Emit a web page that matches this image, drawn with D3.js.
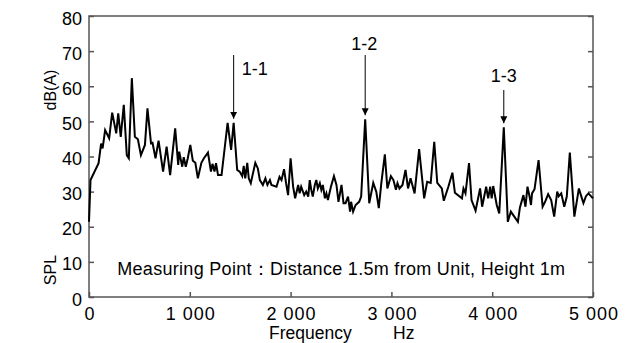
<!DOCTYPE html>
<html>
<head>
<meta charset="utf-8">
<script src="https://cdn.jsdelivr.net/npm/d3@7"></script>
<style>
body{margin:0;background:#fff;}
text{font-family:"Liberation Sans",Arial,sans-serif;fill:#000;}
</style>
</head>
<body>
<svg width="636" height="343"></svg>
<script>
// spectrum
var freq = [0,15,95,120,135,160,200,230,270,290,315,345,375,395,425,455,485,515,555,580,615,630,660,690,735,770,805,
  855,885,895,925,940,960,980,1005,1030,1055,1080,1115,1140,1180,1210,1225,1245,1260,1280,1315,1375,1410,1435,1470,1495,
  1520,1535,1550,1570,1585,1605,1650,1675,1695,1725,1750,1770,1795,1810,1860,1890,1910,1935,1955,1975,2000,2025,2045,
  2075,2090,2105,2135,2155,2175,2190,2205,2220,2240,2255,2270,2290,2305,2320,2340,2355,2370,2400,2430,2455,2475,2505,
  2525,2545,2570,2590,2600,2620,2645,2680,2700,2740,2780,2820,2850,2875,2900,2935,2960,2995,3020,3045,3060,3080,3110,
  3140,3165,3190,3230,3275,3325,3355,3390,3425,3455,3500,3520,3565,3605,3630,3700,3715,3735,3770,3795,3835,3880,3900,
  3940,3960,3980,3995,4010,4045,4070,4115,4155,4185,4255,4275,4310,4330,4350,4370,4385,4395,4420,4460,4500,4525,4555,
  4585,4615,4645,4660,4685,4715,4740,4770,4815,4860,4880,4905,4930,4955,4980,5000];
var spl = [21.4,33.3,38.1,43.7,42.3,47.5,45.2,52.5,46.6,52.3,45.6,54.7,40.4,39.5,62.3,45.6,44.9,40.4,43.3,53.7,43.8,43.9,39.5,44.5,35.7,42.8,34.7,
  48.0,37.6,41.4,37.1,39.8,37.1,39.5,43.3,38.8,38.2,33.8,38.2,39.5,41.1,35.7,37.9,35.7,38.1,34.7,34.7,49.6,41.9,49.6,36.2,35.7,
  34.4,37.3,33.8,38.2,33.8,32.4,38.2,36.6,33.3,31.9,33.8,31.9,33.3,31.9,31.4,34.2,33.3,36.4,32.4,29.0,39.5,31.4,28.1,
  31.9,29.5,31.4,29.0,30.0,28.6,33.3,30.5,28.6,31.9,33.3,30.9,32.4,30.5,31.9,28.1,29.5,27.6,31.4,34.4,31.9,27.1,31.9,
  26.7,26.7,28.6,24.3,27.1,24.3,26.2,27.1,28.6,50.6,26.7,32.5,30.0,25.3,32.4,40.6,30.9,34.4,33.3,30.5,32.4,30.9,31.9,
  36.2,30.9,33.8,29.5,42.1,28.1,32.8,32.5,44.2,32.5,30.9,27.4,31.4,35.4,29.7,28.1,30.9,29.5,38.1,27.6,24.6,30.9,25.7,
  31.4,28.1,31.4,28.1,31.6,26.2,23.8,48.3,21.4,24.3,21.4,25.5,29.0,25.7,31.4,28.7,26.2,29.5,30.7,39.0,25.7,27.1,29.3,
  27.6,22.9,30.0,28.7,29.5,25.7,28.6,41.1,22.9,30.9,29.0,26.7,28.7,29.5,28.7,28.1];

var xTicks = [0,1000,2000,3000,4000,5000];
var yTicks = [0,10,20,30,40,50,60,70,80];
var peakLabels = ['1-1','1-2','1-3'];
var peakFreq = [1435,2740,4115];
var peakSpl = [49.6,50.6,48.3];
var note = 'Measuring Point\uFF1ADistance 1.5m from Unit, Height 1m';

var margin = {left:89,right:43,top:16,bottom:46};
var svg = d3.select('svg');
var width = +svg.attr('width'), height = +svg.attr('height');
var innerwidth = width - margin.left - margin.right;
var innerheight = height - margin.top - margin.bottom;

var xscale = d3.scaleLinear().domain([0,5000]).range([0,innerwidth]);
var yscale = d3.scaleLinear().domain([0,80]).range([innerheight,0]);
var fmt = function(d){ return d3.format(',')(d).replace(',', ' '); };

var g = svg.append('g').attr('transform',`translate(${margin.left},${margin.top})`);

// frame
g.append('rect').attr('width',innerwidth).attr('height',innerheight)
  .attr('fill','none').attr('stroke','#555').attr('stroke-width',1.5);

var xax = g.append('g').attr('transform',`translate(0,${innerheight})`)
  .call(d3.axisBottom(xscale).tickValues(xTicks).tickSize(-5).tickPadding(10).tickFormat(fmt));
var yax = g.append('g')
  .call(d3.axisLeft(yscale).tickValues(yTicks).tickSize(-5).tickPadding(7));
var yax2 = g.append('g').attr('transform',`translate(${innerwidth},0)`)
  .call(d3.axisRight(yscale).tickValues(yTicks).tickSize(-5).tickFormat(''));
[xax,yax,yax2].forEach(function(a){
  a.select('.domain').remove();
  a.selectAll('line').attr('stroke','#555').attr('stroke-width',1.5);
  a.selectAll('text').style('font-size','18px').attr('fill','#000');
});
yax.selectAll('text').attr('dy','0.45em');
xax.selectAll('text').attr('dy','0.71em').style('letter-spacing','1px').attr('dx','0.5px');

// the trace
var pts = freq.map(function(f,i){ return [f,spl[i]]; });
g.append('path').datum(pts)
  .attr('fill','none').attr('stroke','#000').attr('stroke-width',2).attr('stroke-linejoin','miter')
  .attr('d', d3.line().x(d=>xscale(d[0])).y(d=>yscale(d[1])));

// peak arrows
svg.append('defs').append('marker').attr('id','ah')
  .attr('viewBox','0 0 10 10').attr('refX',10).attr('refY',5)
  .attr('markerWidth',7).attr('markerHeight',9).attr('markerUnits','userSpaceOnUse').attr('orient','auto')
  .append('path').attr('d','M0,0L10,5L0,10z').attr('fill','#000');
var arrowTop = [39,39,74];
var labelY = [59,34,66];
var labelDx = [21,-1,0];
peakLabels.forEach(function(lab,i){
  var x = xscale(peakFreq[i]);
  g.append('line').attr('x1',x).attr('x2',x)
    .attr('y1',arrowTop[i]).attr('y2',yscale(peakSpl[i]) - 4)
    .attr('stroke','#000').attr('stroke-width',1).attr('marker-end','url(#ah)');
  g.append('text').attr('x',x + labelDx[i]).attr('y',labelY[i])
    .attr('text-anchor','middle').style('font-size','18px').text(lab);
});

// note
g.append('text').attr('x',xscale(280)).attr('y',yscale(6.3))
  .style('font-size','18px').style('letter-spacing','0.3px').text(note);

// axis titles
svg.append('text').attr('x',269).attr('y',339).style('font-size','17.5px').text('Frequency');
svg.append('text').attr('x',393).attr('y',339).style('font-size','17.5px').text('Hz');
svg.append('text').attr('transform','translate(56,90) rotate(-90)').attr('text-anchor','middle')
  .style('font-size','16px').text('dB(A)');
svg.append('text').attr('transform','translate(56,270) rotate(-90)').attr('text-anchor','middle')
  .style('font-size','16px').text('SPL');
</script>
</body>
</html>
